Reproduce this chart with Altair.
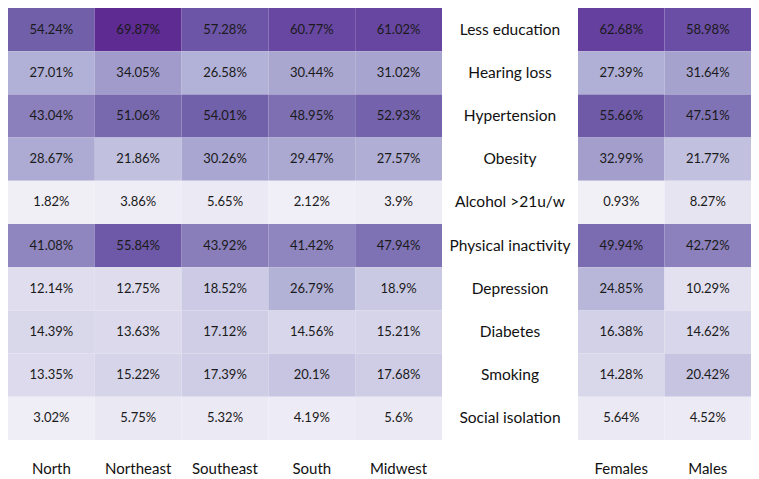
import altair as alt
import pandas as pd

factors = ["Less education", "Hearing loss", "Hypertension", "Obesity", "Alcohol >21u/w",
           "Physical inactivity", "Depression", "Diabetes", "Smoking", "Social isolation"]
regions = ["North", "Northeast", "Southeast", "South", "Midwest"]
sexes = ["Females", "Males"]

north = [54.24, 27.01, 43.04, 28.67, 1.82, 41.08, 12.14, 14.39, 13.35, 3.02]
northeast = [69.87, 34.05, 51.06, 21.86, 3.86, 55.84, 12.75, 13.63, 15.22, 5.75]
southeast = [57.28, 26.58, 54.01, 30.26, 5.65, 43.92, 18.52, 17.12, 17.39, 5.32]
south = [60.77, 30.44, 48.95, 29.47, 2.12, 41.42, 26.79, 14.56, 20.1, 4.19]
midwest = [61.02, 31.02, 52.93, 27.57, 3.9, 47.94, 18.9, 15.21, 17.68, 5.6]
females = [62.68, 27.39, 55.66, 32.99, 0.93, 49.94, 24.85, 16.38, 14.28, 5.64]
males = [58.98, 31.64, 47.51, 21.77, 8.27, 42.72, 10.29, 14.62, 20.42, 4.52]

color_stops = [0, 12, 27, 54, 62, 70]
color_range = ["#f4f2f8", "#e0deee", "#b1b0d6", "#7160aa", "#6642a0", "#5d2b91"]

def long(cols, names):
    rows = []
    for name, vals in zip(names, cols):
        for f, v in zip(factors, vals):
            rows.append({"group": name, "factor": f, "value": v, "label": f"{v}%"})
    return pd.DataFrame(rows)

df_reg = long([north, northeast, southeast, south, midwest], regions)
df_sex = long([females, males], sexes)
df_lab = pd.DataFrame({"factor": factors})

FONT = "Lato"
H = 432
color_scale = alt.Scale(domain=color_stops, range=color_range, interpolate="rgb")
yenc = alt.Y("factor:N", sort=factors, axis=None, scale=alt.Scale(paddingInner=0, paddingOuter=0))

def heat(df, order, width):
    x = alt.X("group:N", sort=order, title=None,
              scale=alt.Scale(paddingInner=0, paddingOuter=0),
              axis=alt.Axis(orient="bottom", ticks=False, domain=False, labelAngle=0,
                            labelFontSize=15, labelFont=FONT, labelColor="#111",
                            labelPadding=28, labelBaseline="middle"))
    base = alt.Chart(df).encode(x=x, y=yenc)
    rect = base.mark_rect(stroke=None).encode(
        color=alt.Color("value:Q", scale=color_scale, legend=None))
    txt = base.mark_text(font=FONT, fontSize=13, color="#1a1a1a").encode(text="label:N")
    return (rect + txt).properties(width=width, height=H)

left = heat(df_reg, regions, 434)
right = heat(df_sex, sexes, 173)
mid = alt.Chart(df_lab).mark_text(font=FONT, fontSize=15.5, color="#111").encode(
    y=yenc, x=alt.value(68), text="factor:N").properties(width=136, height=H)

chart = alt.hconcat(left, mid, right, spacing=0).configure_view(stroke=None).properties(padding=0)

chart.save("out.html", embed_options={"renderer": "svg", "actions": False})
